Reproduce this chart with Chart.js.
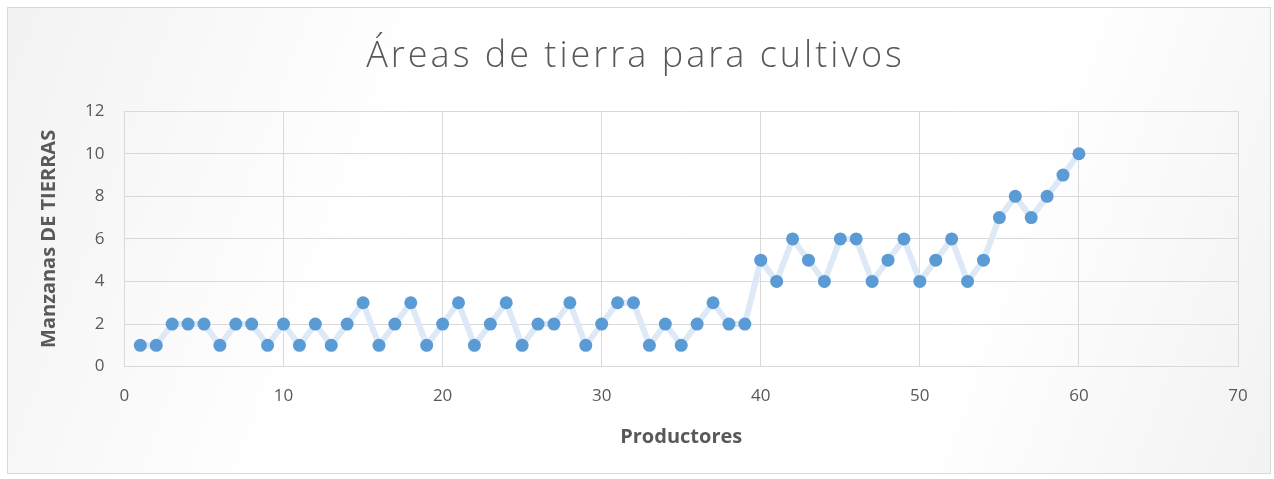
<!DOCTYPE html>
<html>
<head>
<meta charset="utf-8">
<script src="https://cdn.jsdelivr.net/npm/chart.js@4"></script>
<style>
	html, body { margin: 0; padding: 0; background: #ffffff; }
	#wrap {
		position: absolute; left: 7px; top: 7px; width: 1262px; height: 465px;
		border: 1px solid #d9d9d9;
		background: linear-gradient(110deg, #f2f2f2 0%, #ffffff 30%, #ffffff 75%, #f2f2f2 100%);
	}
	canvas { position: absolute; left: 0; top: 0; }
</style>
</head>
<body>
<div id="wrap"><canvas id="chart" width="1262" height="465"></canvas></div>
<script>
// productores 1..60
var productores = [];
for (var i = 1; i <= 60; i++) { productores.push(i); }
var manzanas = [1,1,2,2,2,1,2,2,1,2, 1,2,1,2,3,1,2,3,1,2, 3,1,2,3,1,2,2,3,1,2,
	3,3,1,2,1,2,3,2,2,5, 4,6,5,4,6,6,4,5,6,4, 5,6,4,5,7,8,7,8,9,10];
var xTicks = [0,10,20,30,40,50,60,70];
var yTicks = [0,2,4,6,8,10,12];

var points = productores.map(function(p, i){ return {x: p, y: manzanas[i]}; });
var grey = '#595959';
var gridCol = '#d9d9d9';

var ctx = document.getElementById('chart');
var chart = new Chart(ctx, {
	type: 'scatter',
	data: {
		datasets: [{
			label: 'Manzanas',
			data: points,
			showLine: true,
			borderColor: '#dde9f6',
			borderWidth: 6,
			backgroundColor: '#5b9bd5',
			pointBackgroundColor: '#5b9bd5',
			pointBorderColor: '#5b9bd5',
			pointRadius: 6.5,
			pointBorderWidth: 0,
			tension: 0
		}]
	},
	options: {
		responsive: false,
		animation: false,
		layout: { padding: { left: 25, right: 32, top: 10, bottom: 20 } },
		plugins: {
			legend: { display: false },
			tooltip: { enabled: false },
			title: {
				display: true,
				text: 'Áreas de tierra para cultivos',
				color: grey,
				font: { family: 'Open Sans', size: 36, weight: '300' },
				padding: { top: 17, bottom: 33 }
			}
		},
		scales: {
			x: {
				type: 'linear',
				min: 0, max: 70,
				afterBuildTicks: function(axis){ axis.ticks = xTicks.map(function(v){ return {value: v}; }); },
				grid: { color: gridCol, lineWidth: 1, drawTicks: false },
				border: { color: gridCol },
				ticks: { color: grey, font: { family: 'Open Sans', size: 17 }, padding: 19 },
				title: {
					display: true, text: 'Productores', color: grey,
					font: { family: 'Open Sans', size: 20, weight: 'bold' }, padding: { top: 0 }
				}
			},
			y: {
				min: 0, max: 12,
				afterBuildTicks: function(axis){ axis.ticks = yTicks.map(function(v){ return {value: v}; }); },
				grid: { color: gridCol, lineWidth: 1, drawTicks: false },
				border: { color: gridCol },
				ticks: { color: grey, font: { family: 'Open Sans', size: 17 }, padding: 20 },
				title: {
					display: true, text: 'Manzanas DE TIERRAS', color: grey,
					font: { family: 'Open Sans', size: 20, weight: 'bold' }, padding: { bottom: 4 }
				}
			}
		}
	}
});

// the title in the picture is widely spaced
var origTitleDraw = chart.titleBlock.draw;
chart.titleBlock.draw = function(){
	var c = this.ctx;
	c.save();
	c.letterSpacing = '3px';
	origTitleDraw.apply(this, arguments);
	c.restore();
};
chart.draw();
</script>
</body>
</html>
